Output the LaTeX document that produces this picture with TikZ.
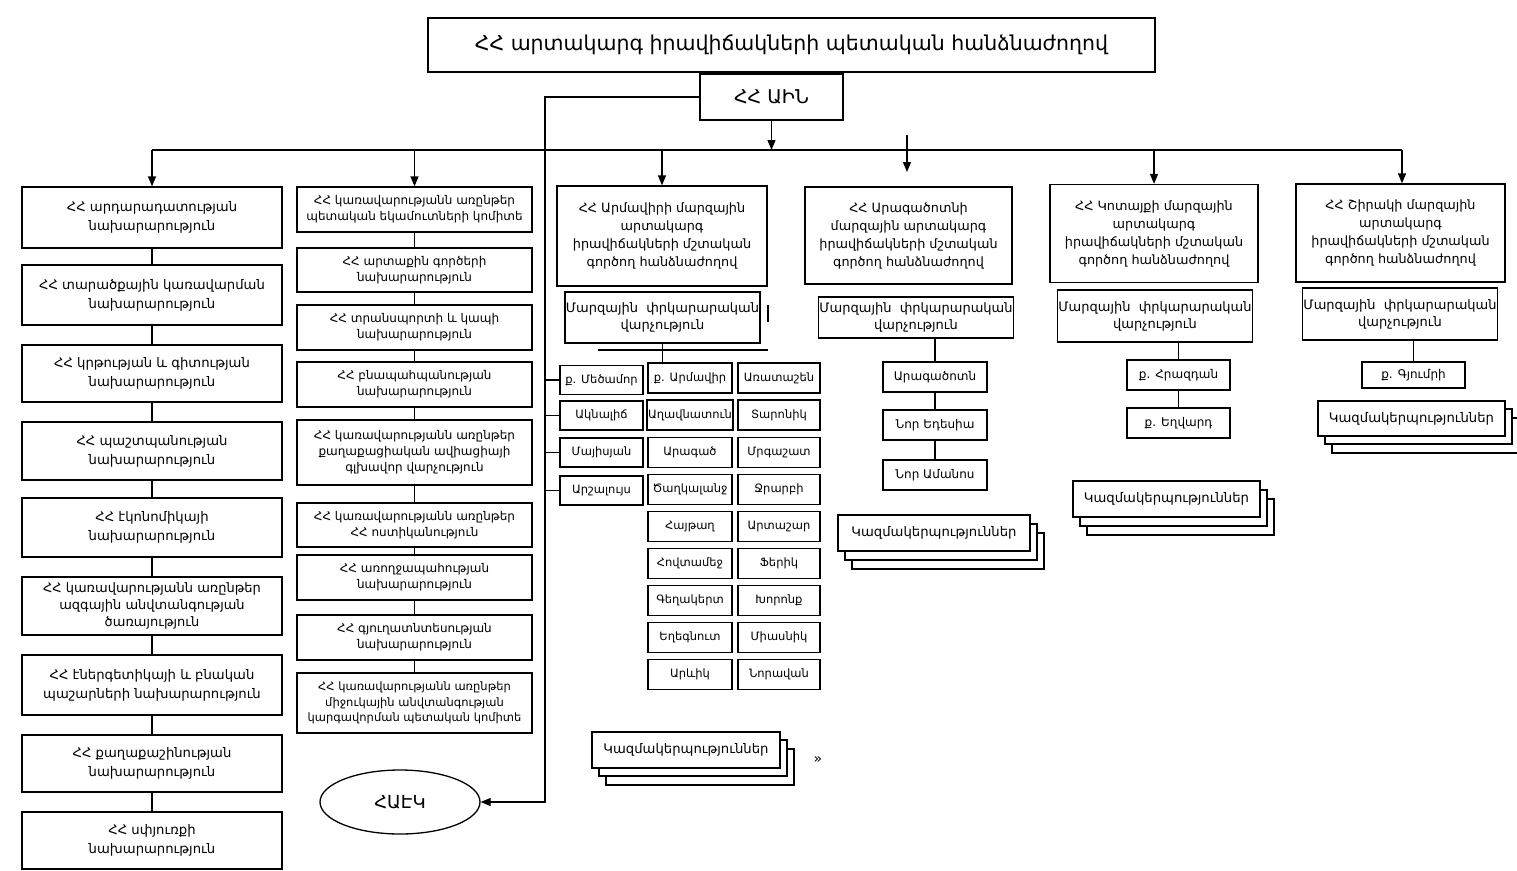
\documentclass[tikz,border=0pt]{standalone}
\usepackage{fontspec}
\setmainfont{DejaVu Sans}
\usetikzlibrary{arrows.meta,shapes.geometric}
\newcommand\myfs[2]{\fontsize{#1}{#2}\selectfont}
\begin{document}
\begin{tikzpicture}[x=1pt,y=-1pt,
  bx/.style={draw, line width=1.3pt, align=center, inner sep=1pt, fill=white},
  ln/.style={line width=1.3pt},
  arr/.style={line width=1.3pt, -{Triangle[length=10pt,width=8pt]}},
  lft/.style={bx, minimum width=260pt, font=\myfs{13.2}{19}},
  mid/.style={bx, minimum width=235pt, font=\myfs{12}{16}},
  big/.style={bx, minimum width=208pt, minimum height=98pt, font=\myfs{12.8}{18}},
  mrz/.style={bx, minimum width=194pt, minimum height=51pt, font=\myfs{13}{17}},
  sm/.style={bx, minimum width=83pt, minimum height=29pt, font=\myfs{11.5}{14}},
  tw/.style={bx, minimum width=104pt, minimum height=30pt, font=\myfs{12}{14}},
  kz/.style={bx, minimum width=188pt, minimum height=36pt, font=\myfs{13.2}{17}}]
\useasboundingbox[fill=white] (0,0) rectangle (1517,870);

% top
\node[bx, minimum width=727pt, minimum height=54pt, font=\myfs{20.5}{26}] (title) at (791.5,45) {ՀՀ արտակարգ իրավիճակների պետական հանձնաժողով};
\node[bx, minimum width=143pt, minimum height=46pt, font=\myfs{19}{22}] (ain) at (771.5,97) {ՀՀ ԱԻՆ};
\coordinate (bus) at (152,150);
\coordinate (busr) at (1402,150);
\coordinate (ml) at (545,92);
\draw[ln] (bus) -- (busr);
\draw[arr] (ain.south) -- (ain.south |- bus);

% column 1
\node[lft, minimum height=61pt] (l1) at (152,217.5) {ՀՀ արդարադատության\\նախարարություն};
\node[lft, minimum height=60pt] (l2) at (152,295) {ՀՀ տարածքային կառավարման\\նախարարություն};
\node[lft, minimum height=57pt] (l3) at (152,373.5) {ՀՀ կրթության և գիտության\\նախարարություն};
\node[lft, minimum height=58pt] (l4) at (152,451) {ՀՀ պաշտպանության\\նախարարություն};
\node[lft, minimum height=59pt] (l5) at (152,527.5) {ՀՀ էկոնոմիկայի\\նախարարություն};
\node[lft, minimum height=58pt, font=\myfs{13}{17}] (l6) at (152,606) {ՀՀ կառավարությանն առընթեր\\ազգային անվտանգության\\ծառայություն};
\node[lft, minimum height=60pt] (l7) at (152,685) {ՀՀ էներգետիկայի և բնական\\պաշարների նախարարություն};
\node[lft, minimum height=57pt] (l8) at (152,763.5) {ՀՀ քաղաքաշինության\\նախարարություն};
\node[lft, minimum height=57pt] (l9) at (152,840.5) {ՀՀ սփյուռքի\\նախարարություն};
\draw[arr] (l1.north |- bus) -- (l1.north);
\foreach \a/\b in {l1/l2,l2/l3,l3/l4,l4/l5,l5/l6,l6/l7,l7/l8,l8/l9}
  \draw[ln] (\a.south) -- (\b.north);

% column 2
\node[mid, minimum height=45pt] (m1) at (414.5,209.5) {ՀՀ կառավարությանն առընթեր\\պետական եկամուտների կոմիտե};
\node[mid, minimum height=44pt] (m2) at (414.5,270) {ՀՀ արտաքին գործերի\\նախարարություն};
\node[mid, minimum height=45pt] (m3) at (414.5,327.5) {ՀՀ տրանսպորտի և կապի\\նախարարություն};
\node[mid, minimum height=45pt] (m4) at (414.5,384.5) {ՀՀ բնապահպանության\\նախարարություն};
\node[mid, minimum height=65pt] (m5) at (414.5,452.5) {ՀՀ կառավարությանն առընթեր\\քաղաքացիական ավիացիայի\\գլխավոր վարչություն};
\node[mid, minimum height=44pt] (m6) at (414.5,525) {ՀՀ կառավարությանն առընթեր\\ՀՀ ոստիկանություն};
\node[mid, minimum height=45pt] (m7) at (414.5,577.5) {ՀՀ առողջապահության\\նախարարություն};
\node[mid, minimum height=45pt] (m8) at (414.5,637.5) {ՀՀ գյուղատնտեսության\\նախարարություն};
\node[mid, minimum height=60pt, font=\myfs{11.5}{15.5}] (m9) at (414.5,703) {ՀՀ կառավարությանն առընթեր\\միջուկային անվտանգության\\կարգավորման պետական կոմիտե};
\draw[arr] (m1.north |- bus) -- (m1.north);
\foreach \a/\b in {m1/m2,m2/m3,m3/m4,m4/m5,m5/m6,m6/m7,m7/m8,m8/m9}
  \draw[ln] (\a.south) -- (\b.north);
\node[draw, ellipse, line width=1.3pt, minimum width=160pt, minimum height=64pt, font=\myfs{18}{22}] (hk) at (400,802) {ՀԱԷԿ};
\draw[arr] (ain.west) -- (ain.west -| ml) -- (hk.east -| ml) -- (hk.east);

% column 3 (Armavir)
\node[big, minimum width=210pt, minimum height=100pt] (a0) at (662,236) {ՀՀ Արմավիրի մարզային\\արտակարգ\\իրավիճակների մշտական\\գործող հանձնաժողով};
\node[mrz, minimum width=195pt] (a1) at (662.5,317.5) {Մարզային\ \ փրկարարական\\վարչություն};
\draw[arr] (a0.north |- bus) -- (a0.north);
\draw[ln] (768,305) -- (768,322);
\coordinate (hl) at (598,350);
\coordinate (hr) at (768,350);
\draw[ln] (hl) -- (hr);
% left sub column
\node[sm] (s1) at (601.5,380) {ք. Մեծամոր};
\node[sm] (s2) at (601.5,415.5) {Ակնալիճ};
\node[sm] (s3) at (601.5,452.5) {Մայիսյան};
\node[sm] (s4) at (601.5,490.5) {Արշալույս};
\foreach \s in {s1,s2,s3,s4} \draw[ln] (\s.west) -- (\s.west -| ml);
% middle and right columns
\foreach \i/\t/\u in {1/ք. Արմավիր/Առատաշեն, 2/Աղավնատուն/Տարոնիկ, 3/Արագած/Մրգաշատ, 4/Ծաղկալանջ/Ջրարբի, 5/Հայթաղ/Արտաշար, 6/Հովտամեջ/Ֆերիկ, 7/Գեղակերտ/Խորոնք, 8/Եղեգնուտ/Միասնիկ, 9/Արևիկ/Նորավան}{
  \node[sm, minimum width=84pt, minimum height=30pt] (g\i) at (690,378+37.1*\i-37.1) {\t};
  \node[sm, minimum width=82pt, minimum height=30pt] (r\i) at (779,378+37.1*\i-37.1) {\u};
}
\draw[ln] (a1.south) -- (a1.south |- g1.north);
\node[kz, xshift=14pt, yshift=-17pt] (ak2) at (686,750) {\phantom{Կազմակերպություններ}};
\node[kz, xshift=7pt, yshift=-8pt] (ak1) at (686,750) {\phantom{Կազմակերպություններ}};
\node[kz] (ak) at (686,750) {Կազմակերպություններ};
\node[font=\myfs{14}{16}] (q) at (818,760) {»};

% column 4 (Aragatsotn)
\node[big, minimum width=207pt, minimum height=97pt] (b0) at (908.5,235.5) {ՀՀ Արագածոտնի\\մարզային արտակարգ\\իրավիճակների մշտական\\գործող հանձնաժողով};
\node[mrz, minimum width=188pt, minimum height=41pt] (b1) at (916,317.5) {Մարզային\ \ փրկարարական\\վարչություն};
\coordinate (c4a) at (907,135);
\coordinate (c4b) at (907,172);
\draw[arr] (c4a) -- (c4b);
\node[tw] (b2) at (935,377) {Արագածոտն};
\node[tw] (b3) at (935,425) {Նոր Եդեսիա};
\node[tw] (b4) at (935,475) {Նոր Ամանոս};
\draw[ln] (b2.north |- b1.south) -- (b2.north);
\draw[ln] (b2.south) -- (b3.north);
\draw[ln] (b3.south) -- (b4.north);
\node[kz, minimum width=192pt, xshift=14pt, yshift=-18pt] (bk2) at (934,533) {\phantom{Կազմակերպություններ}};
\node[kz, minimum width=192pt, xshift=7pt, yshift=-9pt] (bk1) at (934,533) {\phantom{Կազմակերպություններ}};
\node[kz, minimum width=192pt] (bk) at (934,533) {Կազմակերպություններ};

% column 5 (Kotayk)
\node[big] (k0) at (1154,233.5) {ՀՀ Կոտայքի մարզային\\արտակարգ\\իրավիճակների մշտական\\գործող հանձնաժողով};
\node[mrz, minimum height=52pt] (k1) at (1155,316) {Մարզային\ \ փրկարարական\\վարչություն};
\draw[arr] (k0.north |- bus) -- (k0.north);
\node[tw, minimum width=103pt] (k2) at (1178.5,375) {ք. Հրազդան};
\node[tw, minimum width=103pt] (k3) at (1178.5,423) {ք. Եղվարդ};
\draw[ln] (k2.north |- k1.south) -- (k2.north);
\draw[ln] (k2.south) -- (k3.north);
\node[kz, minimum width=187pt, xshift=14pt, yshift=-18pt] (kk2) at (1166.5,499) {\phantom{Կազմակերպություններ}};
\node[kz, minimum width=187pt, xshift=7pt, yshift=-9pt] (kk1) at (1166.5,499) {\phantom{Կազմակերպություններ}};
\node[kz, minimum width=187pt] (kk) at (1166.5,499) {Կազմակերպություններ};

% column 6 (Shirak)
\node[big, minimum width=209pt] (h0) at (1400.5,233) {ՀՀ Շիրակի մարզային\\արտակարգ\\իրավիճակների մշտական\\գործող հանձնաժողով};
\node[mrz, minimum height=52pt] (h1) at (1400,314) {Մարզային\ \ փրկարարական\\վարչություն};
\draw[arr] (busr) -- (busr |- h0.north);
\node[tw, minimum width=103pt, minimum height=26pt] (h2) at (1413.5,375) {ք. Գյումրի};
\draw[ln] (h2.north |- h1.south) -- (h2.north);
\node[kz, minimum width=187pt, minimum height=35pt, xshift=14pt, yshift=-17pt] (hk2) at (1411.5,418.5) {\phantom{Կազմակերպություններ}};
\node[kz, minimum width=187pt, minimum height=35pt, xshift=7pt, yshift=-8pt] (hk1) at (1411.5,418.5) {\phantom{Կազմակերպություններ}};
\node[kz, minimum width=187pt, minimum height=35pt] (hkz) at (1411.5,418.5) {Կազմակերպություններ};
\end{tikzpicture}
\end{document}
